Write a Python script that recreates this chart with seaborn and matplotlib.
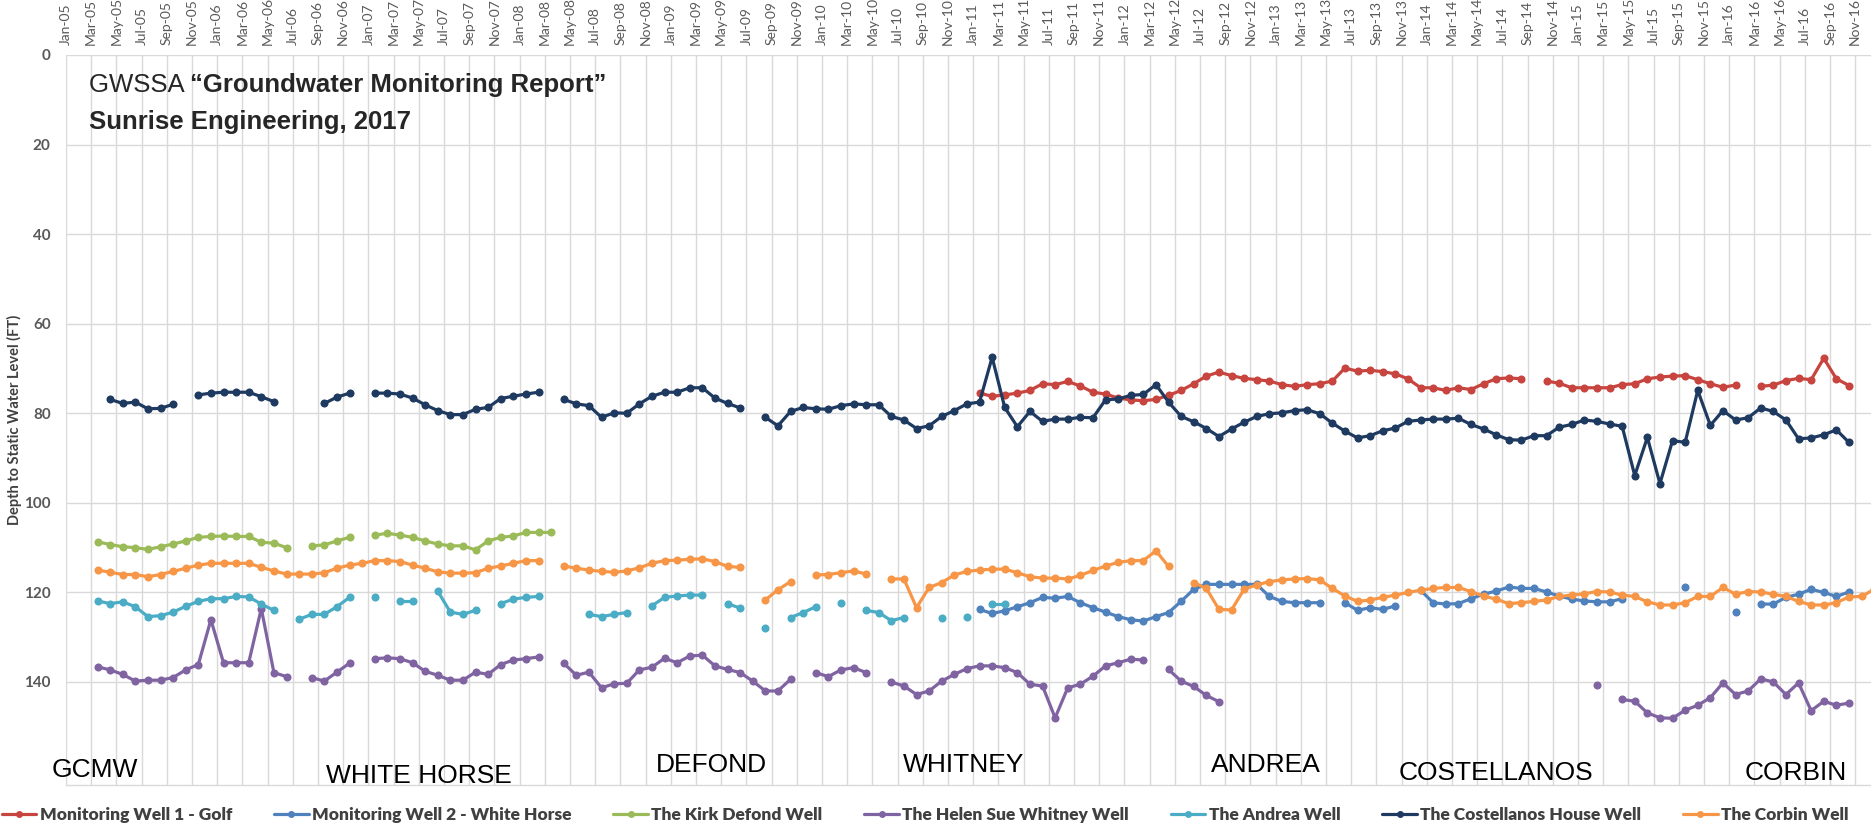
import numpy as np
import pandas as pd
import matplotlib
matplotlib.use("Agg")
import matplotlib.pyplot as plt
import matplotlib.font_manager as fm
import seaborn as sns
from matplotlib.lines import Line2D

N = None

# Monthly depth-to-water readings (ft); each list starts at its first sampled month.
golf_start = "2011-01"
golf = [75.5, 76.2, 75.9, 75.5, 74.9, 73.4, 73.6, 72.9, 73.9, 75.3, 75.7, 76.6,
        77.0, 77.2, 76.9, 76.0, 74.9, 73.4, 71.7, 70.8, 71.6, 72.2, 72.5, 72.8,
        73.6, 74.0, 73.6, 73.4, 72.8, 69.9, 70.6, 70.4, 70.7, 71.2, 72.3, 74.3,
        74.3, 74.9, 74.3, 74.7, 73.4, 72.3, 72.1, 72.3, N, 72.8, 73.3, 74.3,
        74.3, 74.3, 74.3, 73.6, 73.4, 72.3, 71.9, 71.7, 71.6, 72.5, 73.4, 74.2,
        73.7, N, 74.0, 73.7, 72.7, 72.2, 72.5, 67.7, 72.3, 73.8]

white_horse_start = "2011-01"
white_horse = [123.8, 124.7, 124.1, 123.2, 122.3, 121.1, 121.3, 120.9, 122.3, 123.4,
               124.4, 125.4, 126.1, 126.4, 125.4, 124.5, 122.0, 119.3, 118.2, 118.2,
               118.2, 118.2, 118.2, 120.9, 122.0, 122.3, 122.3, 122.3, N, 122.3,
               124.0, 123.4, 123.8, 123.0, N, 119.5, 122.3, 122.6, 122.5, 121.4,
               120.4, 119.7, 118.8, 119.1, 119.1, 119.9, 120.8, 121.5, 121.9, 122.1,
               122.1, 121.4, N, N, N, N, 118.9, N, N, N,
               124.4, N, 122.6, 122.6, 121.1, 120.4, 119.3, 120.0, 120.9, 119.9]

defond_start = "2005-03"
defond = [108.7, 109.3, 109.8, 110.0, 110.4, 109.8, 109.2, 108.5, 107.7, 107.5,
          107.4, 107.5, 107.5, 108.8, 109.0, 110.0, N, 109.6, 109.4, 108.5,
          107.7, N, 107.2, 106.8, 107.2, 107.7, 108.5, 109.2, 109.6, 109.6,
          110.5, 108.5, 107.7, 107.4, 106.6, 106.6, 106.6]

whitney_start = "2005-03"
whitney = [136.6, 137.3, 138.3, 139.8, 139.6, 139.6, 139.0, 137.3, 136.1, 126.1,
           135.7, 135.7, 135.7, 123.6, 137.9, 138.8, N, 139.0, 139.8, 137.8,
           135.8, N, 134.8, 134.6, 134.8, 135.7, 137.6, 138.5, 139.6, 139.6,
           137.8, 138.3, 136.1, 135.1, 134.8, 134.4, N, 135.8, 138.5, 137.8,
           141.3, 140.4, 140.3, 137.3, 136.7, 134.7, 135.7, 134.2, 134.0, 136.4,
           137.2, 137.9, 139.8, 142.0, 142.0, 139.4, N, 137.9, 138.8, 137.3,
           136.8, 137.9, N, 140.0, 140.9, 142.8, 142.0, 139.8, 138.3, 137.0,
           136.4, 136.4, 136.8, 137.9, 140.5, 140.9, 148.0, 141.3, 140.5, 138.7,
           136.4, 135.7, 134.9, 135.1, N, 137.2, 139.8, 141.0, 143.0, 144.4,
           N, N, N, N, N, N, N, N, N, N,
           N, N, N, N, N, N, N, N, N, N,
           N, N, N, N, N, N, N, N, N, 140.6,
           N, 143.9, 144.3, 146.9, 148.0, 148.1, 146.3, 145.2, 143.5, 140.2,
           142.8, 142.0, 139.3, 140.0, 142.8, 140.2, 146.4, 144.3, 145.2, 144.7]

andrea_start = "2005-03"
andrea = [121.9, 122.5, 122.1, 123.2, 125.4, 125.2, 124.4, 123.1, 122.0, 121.4,
          121.4, 120.9, 121.0, 122.6, 124.0, N, 126.0, 124.9, 124.9, 123.2,
          121.1, N, 121.1, N, 121.9, 121.9, N, 119.7, 124.4, 124.9,
          124.0, N, 122.5, 121.5, 121.1, 120.9, N, N, N, 124.9,
          125.4, 124.9, 124.5, N, 123.0, 121.1, 120.8, 120.6, 120.6, N,
          122.5, 123.5, N, 127.9, N, 125.6, 124.5, 123.2, N, 122.3,
          N, 124.0, 124.5, 126.3, 125.6, N, N, 125.6, N, 125.4,
          N, 122.6, 122.6]

costellanos_start = "2005-04"
costellanos = [76.9, 77.8, 77.5, 79.0, 78.9, 78.0, N, 75.9, 75.5, 75.3,
               75.3, 75.3, 76.3, 77.4, N, N, N, 77.8, 76.4, 75.5,
               N, 75.5, 75.5, 75.7, 76.6, 78.1, 79.4, 80.3, 80.3, 79.1,
               78.7, 76.7, 76.2, 75.7, 75.3, N, 76.9, 77.9, 78.3, 80.9,
               79.9, 80.0, 77.9, 76.2, 75.3, 75.3, 74.3, 74.3, 76.6, 77.8,
               78.8, N, 80.9, 82.8, 79.6, 78.7, 79.0, 79.1, 78.3, 77.9,
               78.1, 78.1, 80.7, 81.5, 83.4, 82.8, 80.7, 79.4, 77.9, 77.5,
               67.5, 78.7, 83.0, 79.6, 81.8, 81.3, 81.3, 80.9, 81.0, 77.0,
               76.8, 76.0, 75.8, 73.6, 77.5, 80.7, 81.9, 83.4, 85.2, 83.5,
               82.0, 80.7, 80.1, 79.9, 79.4, 79.2, 80.1, 82.2, 84.0, 85.5,
               85.0, 83.9, 83.3, 81.8, 81.5, 81.3, 81.3, 81.1, 82.5, 83.5,
               84.8, 85.9, 86.0, 85.0, 85.0, 83.1, 82.5, 81.5, 81.8, 82.4,
               82.9, 93.9, 85.4, 95.7, 86.1, 86.5, 74.9, 82.7, 79.4, 81.5,
               81.0, 78.8, 79.6, 81.5, 85.7, 85.5, 84.8, 83.7, 86.5]

corbin_start = "2005-03"
corbin = [115.0, 115.5, 116.0, 116.0, 116.5, 116.0, 115.3, 114.6, 113.9, 113.5,
          113.5, 113.5, 113.5, 114.4, 115.2, 115.9, 115.9, 115.9, 115.6, 114.6,
          113.9, 113.5, 112.9, 112.9, 113.1, 113.9, 114.6, 115.4, 115.7, 115.7,
          115.6, 114.6, 114.1, 113.5, 112.9, 112.9, N, 114.1, 114.6, 115.0,
          115.3, 115.5, 115.2, 114.5, 113.5, 112.9, 112.8, 112.6, 112.5, 113.1,
          114.2, 114.4, N, 121.7, 119.4, 117.6, N, 116.1, 116.0, 115.6,
          115.2, 115.9, N, 117.0, 117.0, 123.4, 118.9, 117.8, 116.1, 115.3,
          115.0, 114.8, 114.8, 115.6, 116.5, 116.8, 116.8, 117.0, 116.2, 115.1,
          114.1, 113.3, 112.9, 112.9, 110.7, 114.2, N, 117.8, 119.1, 123.8,
          123.9, 119.3, 118.3, 117.6, 117.2, 117.0, 116.9, 117.2, 119.1, 120.8,
          122.0, 121.7, 121.1, 120.6, 120.0, 119.5, 119.1, 118.9, 118.9, 119.8,
          120.8, 121.5, 122.5, 122.3, 122.0, 121.7, 120.9, 120.6, 120.3, 119.8,
          119.9, 120.6, 120.9, 122.1, 122.8, 122.8, 122.3, 120.9, 120.9, 118.9,
          120.4, 119.8, 119.9, 120.4, 120.9, 122.0, 122.8, 122.8, 122.3, 121.0,
          120.9, 119.3]

well_names = ["Monitoring Well 1 - Golf", "Monitoring Well 2 - White Horse",
              "The Kirk Defond Well", "The Helen Sue Whitney Well",
              "The Andrea Well", "The Costellanos House Well", "The Corbin Well"]
well_series = [(golf_start, golf), (white_horse_start, white_horse),
               (defond_start, defond), (whitney_start, whitney),
               (andrea_start, andrea), (costellanos_start, costellanos),
               (corbin_start, corbin)]
well_colors = ["#C8443E", "#4F81BD", "#9BBB59", "#8064A2",
               "#4BACC6", "#1F3A60", "#F79646"]

site_labels = ["GCMW", "WHITE HORSE", "DEFOND", "WHITNEY",
               "ANDREA", "COSTELLANOS", "CORBIN"]
# label anchor positions in figure pixels (centre x, centre y)
site_pos = [(95, 770), (419, 776), (711, 765), (964, 765),
            (1266, 765), (1496, 773), (1796, 773)]

tick_dates = pd.date_range("2005-01-01", "2016-11-01", freq="2MS")
tick_labels = [d.strftime("%b-%y") for d in tick_dates]

# ---- long-form table; a new segment starts after every missing reading ----
rows = []
for name, (start, vals) in zip(well_names, well_series):
    p0 = pd.Period(start, freq="M")
    seg = 0
    for k, v in enumerate(vals):
        per = p0 + k
        if v is None:
            seg += 1
            continue
        xm = (per.year - 2005) * 12 + (per.month - 1) + 0.5
        rows.append({"well": name, "month": xm, "depth": v, "seg": f"{name}#{seg}"})
df = pd.DataFrame(rows)

# ---- fonts ----
available = {f.name for f in fm.fontManager.ttflist}
if "Liberation Sans Narrow" in available:
    narrow_family, narrow_size = "Liberation Sans Narrow", 22
elif "DejaVu Sans Condensed" in available:
    narrow_family, narrow_size = "DejaVu Sans Condensed", 20
else:
    narrow_family, narrow_size = "Liberation Sans", 19
ui_family = ["Lato", "Liberation Sans", "DejaVu Sans"]

W, H = 1871, 833
fig = plt.figure(figsize=(W / 100, H / 100), dpi=100)
sns.set_style("white")
plt.rcParams["font.family"] = ["Liberation Sans", "DejaVu Sans"]

ax_l, ax_r, ax_t, ax_b = 66, 1871, 55, 785
ax = fig.add_axes([ax_l / W, 1 - ax_b / H, (ax_r - ax_l) / W, (ax_b - ax_t) / H])

sns.lineplot(data=df, x="month", y="depth", hue="well", units="seg",
             estimator=None, sort=False, hue_order=well_names,
             palette=dict(zip(well_names, well_colors)),
             marker="o", markersize=5.8, markeredgewidth=0, linewidth=2.3,
             legend=False, ax=ax)

ax.set_xlim(0, 143.25)
ax.set_ylim(163, 0)
ax.set_yticks(np.arange(0, 141, 20))
ax.set_xticks(np.arange(0, 2 * len(tick_labels), 2))
ax.set_xticklabels(tick_labels, rotation=90)
ax.xaxis.tick_top()
ax.tick_params(axis="x", length=0, pad=7, labelsize=10, labelcolor="#595959")
ax.tick_params(axis="y", length=0, pad=11, labelsize=11, labelcolor="#595959")
for lab in ax.get_xticklabels():
    lab.set_family(ui_family)
for lab in ax.get_yticklabels():
    lab.set_family(ui_family)
    lab.set_fontweight("bold")
ax.set_xlabel("")
ax.set_ylabel("Depth to Static Water Level (FT)", fontsize=10.5, fontweight="bold",
              color="#404040", family=ui_family)
ax.yaxis.set_label_coords((22 - ax_l) / (ax_r - ax_l), 0.5)
ax.grid(True, color="#D9D9D9", linewidth=1.0)
ax.set_axisbelow(True)
for side in ["top", "right", "left"]:
    ax.spines[side].set_visible(False)
ax.spines["bottom"].set_color("#D9D9D9")
ax.spines["bottom"].set_linewidth(1.0)

# title block
renderer = fig.canvas.get_renderer()
t1 = fig.text(89 / W, 1 - 85 / H, "GWSSA ", fontsize=18.5, va="center", ha="left")
bb = t1.get_window_extent(renderer)
fig.text(bb.x1 / W, 1 - 85 / H, "\u201cGroundwater Monitoring Report\u201d",
         fontsize=18.5, fontweight="bold", va="center", ha="left")
fig.text(89 / W, 1 - 122 / H, "Sunrise Engineering, 2017", fontsize=18.5,
         fontweight="bold", va="center", ha="left")

for lab, (px, py) in zip(site_labels, site_pos):
    fig.text(px / W, 1 - py / H, lab, fontsize=narrow_size, family=narrow_family,
             ha="center", va="center", color="black")

handles = [Line2D([], [], color=c, lw=2.3, marker="o", markersize=5, markeredgewidth=0)
           for c in well_colors]
fig.legend(handles, well_names, loc="center", bbox_to_anchor=(0.4945, 1 - 815 / H),
           ncol=7, frameon=False, handlelength=2.0, handletextpad=0.2,
           columnspacing=2.4,
           prop={"family": ui_family, "weight": "heavy", "size": 12.5},
           labelcolor="#404040")

fig.savefig("out.png", dpi=100)
